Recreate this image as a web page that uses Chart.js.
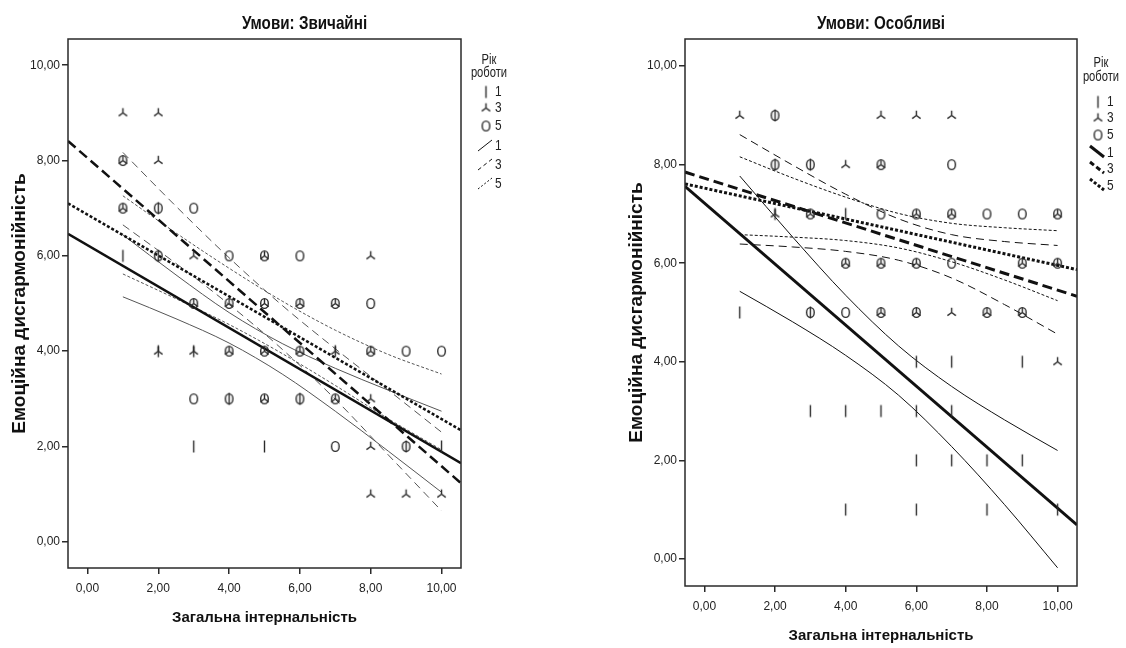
<!DOCTYPE html>
<html>
<head>
<meta charset="utf-8">
<script src="https://cdn.jsdelivr.net/npm/chart.js@4.4.1/dist/chart.umd.min.js"></script>
<style>
  html, body { margin: 0; padding: 0; background: #fff; }
  .panel { position: absolute; top: 0; width: 563px; height: 648px; }
  #ordinary { left: 0; }
  #special { left: 563px; }
</style>
</head>
<body>
<div class="panel" id="ordinary"><canvas id="ordinaryChart"></canvas></div>
<div class="panel" id="special"><canvas id="specialChart"></canvas></div>
<script>
// axes and labels shared by both panels
const xTicks = [0, 2, 4, 6, 8, 10];
const yTicks = [0, 2, 4, 6, 8, 10];
const axisRange = [-0.55, 10.55];
const xTitle = 'Загальна інтернальність';
const yTitle = 'Емоційна дисгармонійність';
const legendTitle = ['Рік', 'роботи'];
const years = ['1', '3', '5'];

// fitted lines are given at the two ends of the axis, bands at these x values
const fitX = [-0.55, 10.55];
const ciX = [1, 2.5, 4, 5.5, 7, 8.5, 10];

// ---- Умови: Звичайні ----
const ordTitle = 'Умови: Звичайні';
const ordYear1 = [[2,7],[1,6],[2,6],[2,4],[3,4],[7,4],[4,3],[6,3],[3,2],[5,2],[9,2],[10,2]];
const ordYear3 = [[1,9],[2,9],[1,8],[2,8],[1,7],[3,6],[5,6],[8,6],[3,5],[4,5],[5,5],[6,5],[7,5],
                  [2,4],[3,4],[4,4],[5,4],[6,4],[7,4],[8,4],[5,3],[7,3],[8,3],[8,2],[8,1],[9,1],[10,1]];
const ordYear5 = [[1,8],[1,7],[2,7],[3,7],[2,6],[4,6],[5,6],[6,6],[3,5],[4,5],[5,5],[6,5],[7,5],[8,5],
                  [4,4],[5,4],[6,4],[8,4],[9,4],[10,4],[3,3],[4,3],[5,3],[6,3],[7,3],[7,2],[9,2]];
const ordFit1 = [6.46, 1.65];
const ordFit3 = [8.41, 1.23];
const ordFit5 = [7.10, 2.34];
const ordCi1Up = [6.44, 5.60, 4.81, 4.16, 3.64, 3.18, 2.74];
const ordCi1Lo = [5.14, 4.68, 4.17, 3.52, 2.74, 1.90, 1.04];
const ordCi3Up = [8.17, 7.04, 5.96, 4.96, 4.05, 3.18, 2.30];
const ordCi3Lo = [6.65, 5.84, 4.98, 4.04, 2.99, 1.82, 0.65];
const ordCi5Up = [7.26, 6.48, 5.74, 5.05, 4.44, 3.93, 3.52];
const ordCi5Lo = [5.62, 5.10, 4.56, 3.95, 3.28, 2.58, 1.93];

// ---- Умови: Особливі ----
const spcTitle = 'Умови: Особливі';
const spcYear1 = [[2,9],[2,8],[3,8],[2,7],[4,7],[1,5],[3,5],[6,4],[7,4],[9,4],[3,3],[4,3],[5,3],[6,3],[7,3],
                  [6,2],[7,2],[8,2],[9,2],[4,1],[6,1],[8,1],[10,1]];
const spcYear3 = [[1,9],[5,9],[6,9],[7,9],[4,8],[5,8],[2,7],[3,7],[6,7],[7,7],[10,7],[4,6],[5,6],[6,6],[9,6],[10,6],
                  [5,5],[6,5],[7,5],[8,5],[9,5],[10,4]];
const spcYear5 = [[2,9],[2,8],[3,8],[5,8],[7,8],[3,7],[5,7],[6,7],[7,7],[8,7],[9,7],[10,7],[4,6],[5,6],[6,6],[7,6],
                  [9,6],[10,6],[3,5],[4,5],[5,5],[6,5],[8,5],[9,5]];
const spcFit1 = [7.56, 0.69];
const spcFit3 = [7.85, 5.33];
const spcFit5 = [7.61, 5.87];
const spcCi1Up = [7.77, 6.53, 5.35, 4.32, 3.50, 2.82, 2.20];
const spcCi1Lo = [5.43, 4.81, 4.13, 3.32, 2.28, 1.10, -0.18];
const spcCi3Up = [8.61, 7.99, 7.40, 6.90, 6.58, 6.44, 6.36];
const spcCi3Lo = [6.39, 6.33, 6.24, 6.06, 5.70, 5.16, 4.56];
const spcCi5Up = [8.16, 7.73, 7.34, 7.01, 6.81, 6.72, 6.66];
const spcCi5Lo = [6.58, 6.53, 6.46, 6.31, 6.03, 5.66, 5.24];

const FONT = "'Liberation Sans', Arial, sans-serif";
const INK = '#2a2a2a';

// small marker glyphs: bar for 1 year, inverted Y for 3 years, ring for 5 years
function makeMarker(kind) {
    const c = document.createElement('canvas');
    c.width = 13;
    c.height = 15;
    const g = c.getContext('2d');
    g.strokeStyle = INK;
    g.lineWidth = 1.4;
    g.beginPath();
    if (kind === 'bar') {
        g.moveTo(6.5, 1.5); g.lineTo(6.5, 13.5);
    } else if (kind === 'tri') {
        g.moveTo(6.5, 2.8); g.lineTo(6.5, 7.5);
        g.moveTo(2.3, 10.6); g.lineTo(6.5, 7.5); g.lineTo(10.7, 10.6);
    } else {
        g.ellipse(6.5, 7.5, 3.8, 4.9, 0, 0, Math.PI * 2);
    }
    g.stroke();
    return c;
}
const markers = [makeMarker('bar'), makeMarker('tri'), makeMarker('ring')];

const toPoints = list => list.map(([x, y]) => ({ x, y }));
const toCurve = (xs, ys) => xs.map((x, i) => ({ x, y: ys[i] }));
const fmt = v => v.toFixed(2).replace('.', ',');

function pointSet(list, marker) {
    return {
        data: toPoints(list),
        pointStyle: marker,
        pointRadius: 5,
        showLine: false
    };
}

function lineSet(xs, ys, dash, width, color, smooth) {
    return {
        data: toCurve(xs, ys),
        showLine: true,
        pointRadius: 0,
        borderColor: color,
        borderWidth: width,
        borderDash: dash,
        cubicInterpolationMode: smooth ? 'monotone' : 'default',
        fill: false
    };
}

// condensed text, the panels use a narrow face
function narrowText(ctx, text, x, y, squeeze) {
    ctx.save();
    ctx.translate(x, y);
    ctx.scale(squeeze, 1);
    ctx.fillText(text, 0, 0);
    ctx.restore();
}

// box around the plot area, panel title and the year legend
const panelDecor = {
    id: 'panelDecor',
    afterDraw(chart, args, o) {
        const { ctx, chartArea: a } = chart;
        ctx.save();
        ctx.strokeStyle = INK;
        ctx.lineWidth = 1.5;
        ctx.strokeRect(a.left, a.top, a.right - a.left, a.bottom - a.top);

        ctx.fillStyle = '#111';
        ctx.textAlign = 'center';
        ctx.textBaseline = 'middle';
        ctx.font = `bold 19px ${FONT}`;
        narrowText(ctx, o.title, (a.left + a.right) / 2 + o.titleShift, 24, 0.8);

        ctx.font = `14px ${FONT}`;
        ctx.fillStyle = '#222';
        narrowText(ctx, legendTitle[0], o.legendX, o.rows[0], 0.8);
        narrowText(ctx, legendTitle[1], o.legendX, o.rows[1], 0.8);

        ctx.textAlign = 'left';
        markers.forEach((m, i) => {
            const y = o.rows[2 + i];
            ctx.drawImage(m, o.legendX - 3 - m.width / 2, y - m.height / 2);
            narrowText(ctx, years[i], o.legendX + 6, y, 0.85);
        });
        o.lineStyles.forEach((s, i) => {
            const y = o.rows[5 + i];
            ctx.save();
            ctx.strokeStyle = '#111';
            ctx.lineWidth = s.width;
            ctx.setLineDash(s.dash);
            ctx.beginPath();
            ctx.moveTo(o.legendX - 11, y - 6 * o.legendSlope);
            ctx.lineTo(o.legendX + 3, y + 5 * o.legendSlope);
            ctx.stroke();
            ctx.restore();
            narrowText(ctx, years[i], o.legendX + 6, y + 1, 0.85);
        });
        ctx.restore();
    }
};

function buildChart(canvasId, cfg) {
    const tickFont = { family: FONT, size: 12 };
    return new Chart(document.getElementById(canvasId), {
        type: 'scatter',
        data: {
            datasets: [
                pointSet(cfg.pts[0], markers[0]),
                pointSet(cfg.pts[1], markers[1]),
                pointSet(cfg.pts[2], markers[2]),
                lineSet(fitX, cfg.fit[0], [], cfg.thick, '#111', false),
                lineSet(fitX, cfg.fit[1], [10, 5], cfg.thick, '#111', false),
                lineSet(fitX, cfg.fit[2], [3, 2], cfg.thick, '#111', false),
                lineSet(ciX, cfg.ci[0], [], 1, cfg.thin, true),
                lineSet(ciX, cfg.ci[1], [], 1, cfg.thin, true),
                lineSet(ciX, cfg.ci[2], [8, 5], 1, cfg.thin, true),
                lineSet(ciX, cfg.ci[3], [8, 5], 1, cfg.thin, true),
                lineSet(ciX, cfg.ci[4], [3, 2], 1, cfg.thin, true),
                lineSet(ciX, cfg.ci[5], [3, 2], 1, cfg.thin, true)
            ]
        },
        options: {
            responsive: true,
            maintainAspectRatio: false,
            animation: false,
            events: [],
            layout: { padding: { left: cfg.padLeft, right: cfg.padRight, top: 39, bottom: 0 } },
            scales: {
                x: {
                    type: 'linear',
                    min: axisRange[0],
                    max: axisRange[1],
                    afterFit: s => { s.height = cfg.xAxisHeight; },
                    afterBuildTicks: s => { s.ticks = xTicks.map(v => ({ value: v })); },
                    grid: { drawOnChartArea: false, drawTicks: true, tickLength: 6, color: INK, lineWidth: 1.5 },
                    border: { display: false },
                    ticks: { font: tickFont, color: '#222', padding: 7, callback: fmt, maxRotation: 0 },
                    title: {
                        display: true,
                        text: xTitle,
                        color: '#111',
                        font: { family: FONT, size: 15, weight: 'bold' },
                        padding: { top: 4, bottom: cfg.xTitlePad }
                    }
                },
                y: {
                    type: 'linear',
                    min: axisRange[0],
                    max: axisRange[1],
                    afterFit: s => { s.width = 68; },
                    afterBuildTicks: s => { s.ticks = yTicks.map(v => ({ value: v })); },
                    grid: { drawOnChartArea: false, drawTicks: true, tickLength: 6, color: INK, lineWidth: 1.5 },
                    border: { display: false },
                    ticks: { font: tickFont, color: '#222', padding: 2, callback: fmt },
                    title: {
                        display: true,
                        text: yTitle,
                        color: '#111',
                        font: { family: FONT, size: 19, weight: 'bold' },
                        padding: { top: 8, bottom: 0 }
                    }
                }
            },
            plugins: {
                legend: { display: false },
                tooltip: { enabled: false },
                panelDecor: cfg.decor
            }
        },
        plugins: [panelDecor]
    });
}

buildChart('ordinaryChart', {
    pts: [ordYear1, ordYear3, ordYear5],
    fit: [ordFit1, ordFit3, ordFit5],
    ci: [ordCi1Up, ordCi1Lo, ordCi3Up, ordCi3Lo, ordCi5Up, ordCi5Lo],
    thick: 2.5,
    thin: '#555',
    padLeft: 0,
    padRight: 102,
    xAxisHeight: 80,
    xTitlePad: 21,
    decor: {
        title: ordTitle, titleShift: 40,
        legendX: 489, legendSlope: -1,
        rows: [60, 73, 92, 108, 126, 145, 164, 183],
        lineStyles: [{ width: 1, dash: [] }, { width: 1, dash: [4, 3] }, { width: 1, dash: [2, 2] }]
    }
});

buildChart('specialChart', {
    pts: [spcYear1, spcYear3, spcYear5],
    fit: [spcFit1, spcFit3, spcFit5],
    ci: [spcCi1Up, spcCi1Lo, spcCi3Up, spcCi3Lo, spcCi5Up, spcCi5Lo],
    thick: 3,
    thin: '#111',
    padLeft: 54,
    padRight: 49,
    xAxisHeight: 62,
    xTitlePad: 3,
    decor: {
        title: spcTitle, titleShift: 0,
        legendX: 538, legendSlope: 1,
        rows: [63, 77, 102, 118, 135, 152, 168, 185],
        lineStyles: [{ width: 3, dash: [] }, { width: 3, dash: [5, 3] }, { width: 3, dash: [3, 2] }]
    }
});
</script>
</body>
</html>
